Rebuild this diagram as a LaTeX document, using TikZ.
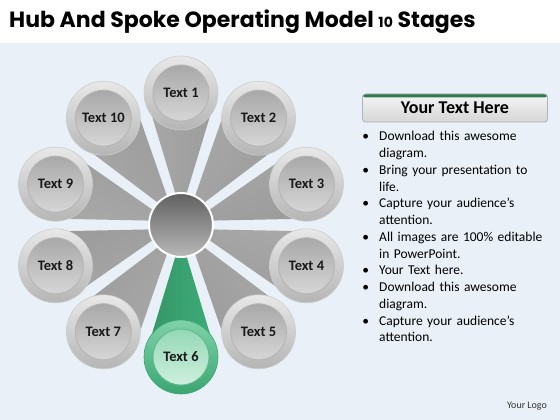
\documentclass[tikz,border=0pt]{standalone}
\usepackage{fontspec}
\setmainfont{Carlito}
\newfontfamily\titlefont{Poppins}
\usetikzlibrary{calc}

\definecolor{bgblue}{HTML}{EAF0F7}
\definecolor{spokegreen}{HTML}{3DAE78}
\definecolor{spokegreenlight}{HTML}{A6E4C4}
\definecolor{ringgreen}{HTML}{3AA672}
\definecolor{ringgreenlight}{HTML}{7FD2A8}
\definecolor{headgreen}{HTML}{2F7A4E}

\pgfdeclarelayer{background}
\pgfdeclarelayer{spokes}
\pgfsetlayers{background,spokes,main}

\begin{document}
\begin{tikzpicture}
[every node/.style={inner sep=0pt},
 stage/.style={circle, minimum size=74pt, top color=gray!18, bottom color=gray!58, draw=gray!40, line width=0.6pt, text=black!90, font=\bfseries\fontsize{14.5}{14.5}\selectfont,
   path picture={\shadedraw[top color=gray!74, bottom color=gray!26, draw=gray!58, line width=0.9pt] (path picture bounding box.center) circle (28pt);}},
 stagegreen/.style={stage, top color=ringgreenlight, bottom color=ringgreen, draw=ringgreen,
   path picture={\shadedraw[top color=spokegreenlight!75!ringgreen, bottom color=spokegreenlight!45, draw=ringgreen!80, line width=0.9pt] (path picture bounding box.center) circle (28pt);}},
 hub/.style={circle, minimum size=64pt, top color=gray!75!black, bottom color=gray!55, draw=white, line width=2pt},
 spoke/.style={top color=gray!68, middle color=gray!28, bottom color=gray!78, shading angle=#1},
 spokeg/.style={top color=spokegreen, middle color=spokegreenlight, bottom color=spokegreen!85!black, shading angle=#1},
 headbox/.style={rectangle, rounded corners=3pt, minimum width=185pt, minimum height=28pt, top color=gray!8, bottom color=gray!32, draw=gray!60, line width=0.8pt, font=\bfseries\fontsize{18}{18}\selectfont,
   path picture={\fill[headgreen] (path picture bounding box.north west) rectangle ([yshift=-3.5pt]path picture bounding box.north east);}}]
\useasboundingbox (0pt, 0pt) rectangle (560pt, -420pt);
\begin{pgfonlayer}{background}
\fill[white] (0pt, 0pt) rectangle (560pt, -420pt);
\shade[left color=bgblue, middle color=white, right color=bgblue] (0pt, -44pt) rectangle (560pt, -420pt);
\end{pgfonlayer}
\node (title) [anchor=base west, font=\titlefont\bfseries\fontsize{22}{22}\selectfont] at (9.0pt, -28.0pt) {Hub And Spoke Operating Model {\fontsize{14}{14}\selectfont 10} Stages};
\node (hub) [hub] at (181.0pt, -225.0pt) {};
\node (1) [stage] at (181.0pt, -93.0pt) {Text 1};
\node (2) [stage] at (258.6pt, -118.2pt) {Text 2};
\node (3) [stage] at (306.5pt, -184.2pt) {Text 3};
\node (4) [stage] at (306.5pt, -265.8pt) {Text 4};
\node (5) [stage] at (258.6pt, -331.8pt) {Text 5};
\node (6) [stagegreen] at (181.0pt, -357.0pt) {Text 6};
\node (7) [stage] at (103.4pt, -331.8pt) {Text 7};
\node (8) [stage] at (55.5pt, -265.8pt) {Text 8};
\node (9) [stage] at (55.5pt, -184.2pt) {Text 9};
\node (10) [stage] at (103.4pt, -118.2pt) {Text 10};
\begin{pgfonlayer}{spokes}
\shade[spoke=90] ($(hub)!13pt!(1)$) -- ($(1)!36pt!90:(hub)$) -- ($(1)!36pt!-90:(hub)$) -- cycle;
\shade[spoke=54] ($(hub)!13pt!(2)$) -- ($(2)!36pt!90:(hub)$) -- ($(2)!36pt!-90:(hub)$) -- cycle;
\shade[spoke=18] ($(hub)!13pt!(3)$) -- ($(3)!36pt!90:(hub)$) -- ($(3)!36pt!-90:(hub)$) -- cycle;
\shade[spoke=-18] ($(hub)!13pt!(4)$) -- ($(4)!36pt!90:(hub)$) -- ($(4)!36pt!-90:(hub)$) -- cycle;
\shade[spoke=-54] ($(hub)!13pt!(5)$) -- ($(5)!36pt!90:(hub)$) -- ($(5)!36pt!-90:(hub)$) -- cycle;
\shade[spokeg=-90] ($(hub)!13pt!(6)$) -- ($(6)!36pt!90:(hub)$) -- ($(6)!36pt!-90:(hub)$) -- cycle;
\shade[spoke=-126] ($(hub)!13pt!(7)$) -- ($(7)!36pt!90:(hub)$) -- ($(7)!36pt!-90:(hub)$) -- cycle;
\shade[spoke=-162] ($(hub)!13pt!(8)$) -- ($(8)!36pt!90:(hub)$) -- ($(8)!36pt!-90:(hub)$) -- cycle;
\shade[spoke=162] ($(hub)!13pt!(9)$) -- ($(9)!36pt!90:(hub)$) -- ($(9)!36pt!-90:(hub)$) -- cycle;
\shade[spoke=126] ($(hub)!13pt!(10)$) -- ($(10)!36pt!90:(hub)$) -- ($(10)!36pt!-90:(hub)$) -- cycle;
\end{pgfonlayer}
% text panel on the right
\node (head) [headbox] at (455.0pt, -108.0pt) {Your Text Here};
\node (points) [anchor=north west, text width=200pt, font=\fontsize{13.5}{16.75}\selectfont] at (362.0pt, -124.0pt) {%
\begin{list}{\textbullet}{\setlength{\leftmargin}{17pt}\setlength{\labelsep}{10pt}\setlength{\itemsep}{0pt}\setlength{\parsep}{0pt}\setlength{\topsep}{0pt}\setlength{\partopsep}{0pt}}
\item Download this awesome\newline diagram.
\item Bring your presentation to\newline life.
\item Capture your audience’s\newline attention.
\item All images are 100\% editable\newline in PowerPoint.
\item Your Text here.
\item Download this awesome\newline diagram.
\item Capture your audience’s\newline attention.
\end{list}};
\node (logo) [font=\fontsize{10}{10}\selectfont, text=black!80] at (527.0pt, -406.0pt) {Your Logo};
\end{tikzpicture}
\end{document}
